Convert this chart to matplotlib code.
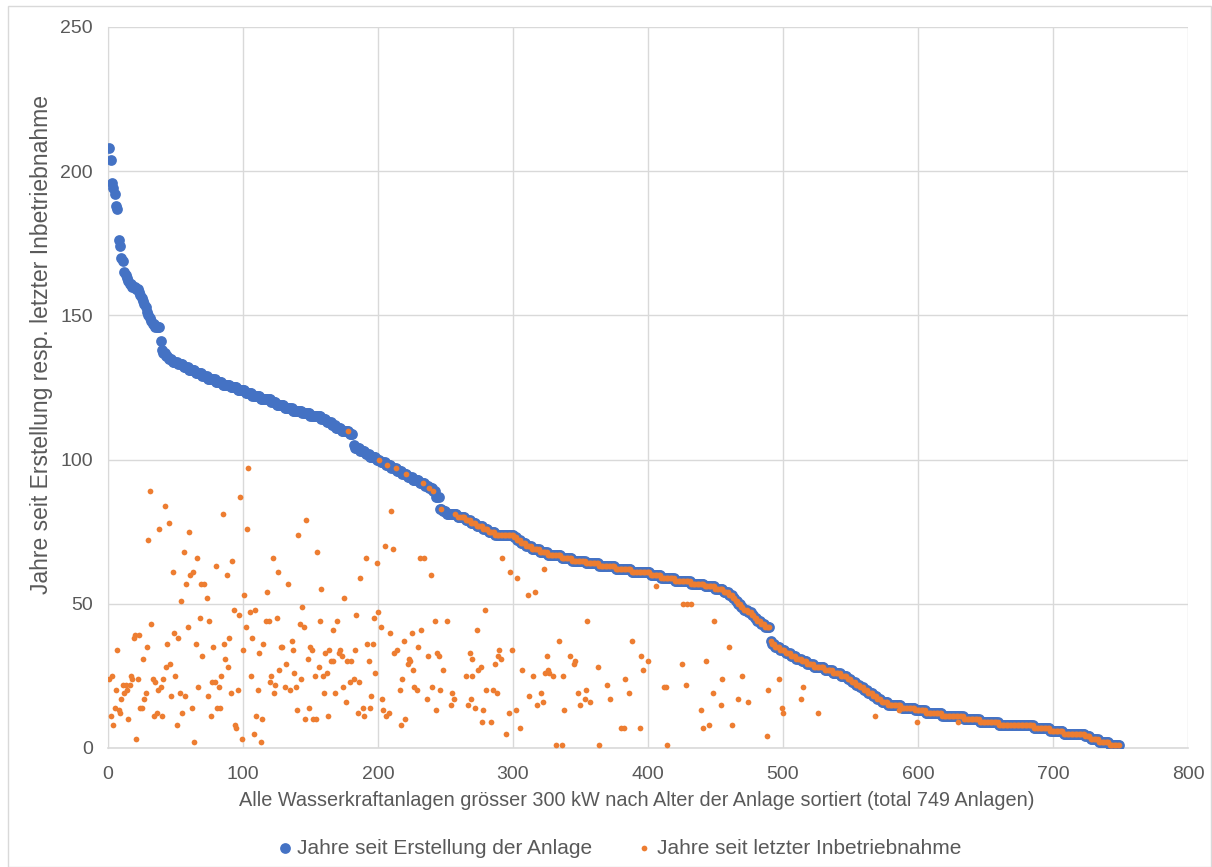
import numpy as np
import matplotlib
matplotlib.use('Agg')
import matplotlib.pyplot as plt
from matplotlib.patches import Rectangle

# ages (years since construction) of the sorted plants, as value/count runs
age_values = [208, 204, 196, 194, 192, 188, 187, 176, 174, 170, 169, 165, 164, 163, 162, 161, 160,
              159, 158, 157, 156, 155, 154, 153, 151, 150, 149, 148, 147, 146, 141, 138, 137, 136,
              135, 134, 133, 132, 131, 130, 129, 128, 127, 126, 125, 124, 123, 122, 121, 120, 119,
              118, 117, 116, 115, 114, 113, 112, 111, 110, 109, 105, 104, 103, 102, 101, 100, 99,
              98, 97, 96, 95, 94, 93, 92, 91, 90, 89, 87, 83, 82, 81, 80, 79, 78, 77, 76, 75, 74,
              73, 72, 71, 70, 69, 68, 67, 66, 65, 64, 63, 62, 61, 60, 59, 58, 57, 56, 55, 54, 53,
              52, 51, 50, 49, 48, 47, 46, 45, 44, 43, 42, 37, 36, 35, 34, 33, 32, 31, 30, 29, 28,
              27, 26, 25, 24, 23, 22, 21, 20, 19, 18, 17, 16, 15, 14, 13, 12, 11, 10, 9, 8, 7, 6,
              5, 4, 3, 2, 1]
age_counts = [1, 1, 1, 1, 1, 1, 1, 1, 1, 1, 1, 1, 1, 1, 1, 2, 3,
              2, 1, 1, 1, 1, 1, 1, 1, 1, 1, 1, 2, 4, 1, 1, 2, 2,
              3, 4, 4, 4, 5, 5, 4, 6, 5, 6, 5, 6, 5, 6, 8, 4, 6,
              6, 7, 6, 8, 4, 4, 3, 4, 6, 3, 1, 4, 4, 3, 5, 3, 4,
              4, 4, 4, 4, 4, 5, 4, 3, 3, 2, 3, 2, 3, 8, 6, 4, 4, 5, 4, 5, 14,
              2, 3, 4, 4, 6, 6, 10, 8, 10, 10, 12, 12, 14, 8, 10, 12, 10, 8, 6, 4, 3,
              2, 2, 2, 2, 3, 3, 2, 2, 3, 3, 4, 1, 2, 4, 4, 4, 4, 4, 4, 5, 8,
              6, 6, 5, 3, 3, 3, 3, 3, 4, 3, 3, 5, 10, 10, 8, 12, 16, 12, 14, 26, 12, 10,
              16, 4, 6, 8, 8]

# plants with a later re-commissioning: position in ranking and years since then
ren_x = [104, 31, 42, 98, 45, 38, 85, 103, 60, 30, 56, 66, 122, 92, 80, 48, 63, 61, 88, 126, 58, 69,
         71, 133, 118, 101, 73, 54, 93, 105, 109, 97, 68, 75, 32, 117, 119, 125, 102, 59, 49, 19, 20,
         23, 52, 90, 107, 44, 65, 86, 115, 29, 78, 128, 129, 7, 100, 112, 70, 26, 87, 132, 46, 43,
         89, 127, 1, 3, 17, 18, 22, 33, 35, 41, 50, 84, 106, 121, 11, 13, 16, 77, 79, 120, 124, 131,
         39, 67, 82, 6, 14, 37, 111, 96, 28, 12, 53, 91, 123, 47, 57, 74, 27, 10, 5, 24, 25, 62, 81,
         83, 8, 9, 36, 55, 2, 34, 40, 76, 110, 15, 114, 4, 51, 94, 95, 108, 21, 99, 64, 113,
         147, 141, 210, 155, 205, 211, 191, 199, 231, 234, 239, 187, 158, 175, 144, 200, 184, 197,
         157, 170, 242, 251, 142, 145, 202, 167, 232, 225, 209, 136, 219, 192, 196, 150, 151, 137,
         164, 172, 183, 230, 161, 171, 214, 212, 244, 268, 173, 237, 245, 148, 223, 165, 167, 177,
         180, 193, 224, 270, 222, 156, 226, 248, 138, 162, 198, 153, 159, 265, 270, 143, 182, 218,
         179, 186, 135, 139, 174, 227, 229, 240, 216, 246, 160, 168, 195, 255, 203, 236, 256, 269,
         176, 254, 267, 189, 194, 149, 140, 204, 243, 185, 208, 163, 190, 206, 146, 152, 154, 220,
         217,
         292, 298, 303, 323, 311, 316, 406, 279, 273, 355, 334, 388, 290, 299, 289, 291, 325, 342,
         395, 346, 345, 400, 287, 276, 274, 307, 326, 363, 396, 315, 324, 327, 330, 337, 383, 370,
         280, 285, 288, 354, 348, 386, 312, 321, 353, 372, 322, 357, 318, 350, 272, 278, 302, 338,
         297, 277, 284, 305, 380, 382, 394, 295, 332, 336, 364,
         426, 429, 432, 449, 460, 425, 443, 470, 455, 497, 412, 413, 428, 515, 489, 448, 467, 474,
         513, 454, 499, 500, 526, 439, 441, 445, 462, 488, 414,
         568, 586, 599, 630]
ren_y = [97, 89, 84, 87, 78, 76, 81, 76, 75, 72, 68, 66, 66, 65, 63, 61, 61, 60, 60, 61, 57, 57,
         57, 57, 54, 53, 52, 51, 48, 47, 48, 46, 45, 44, 43, 44, 44, 45, 42, 42, 40, 38, 39,
         39, 38, 38, 38, 36, 36, 36, 36, 35, 35, 35, 35, 34, 34, 33, 32, 31, 31, 29, 29, 28,
         28, 27, 24, 25, 25, 24, 24, 24, 23, 24, 25, 25, 25, 25, 22, 22, 22, 23, 23, 23, 22, 21,
         21, 21, 21, 20, 20, 20, 20, 20, 19, 19, 19, 19, 19, 18, 18, 18, 17, 17, 14, 14, 14, 14, 14,
         14, 13, 12, 12, 12, 11, 11, 11, 11, 11, 10, 10, 8, 8, 8, 7, 5, 3, 3, 2, 2,
         79, 74, 82, 68, 70, 69, 66, 64, 66, 66, 60, 59, 55, 52, 49, 47, 46, 45,
         44, 44, 44, 44, 43, 42, 42, 41, 41, 40, 40, 37, 37, 36, 36, 35, 34, 34,
         34, 34, 34, 35, 33, 33, 34, 33, 33, 33, 32, 32, 32, 31, 31, 30, 30, 30,
         30, 30, 30, 31, 29, 28, 27, 27, 26, 26, 26, 25, 25, 25, 25, 24, 24, 24,
         23, 23, 20, 21, 21, 21, 20, 21, 20, 20, 19, 19, 18, 19, 17, 17, 17, 17,
         16, 15, 15, 14, 14, 14, 13, 13, 13, 12, 12, 11, 11, 11, 10, 10, 10, 10,
         8,
         66, 61, 59, 62, 53, 54, 56, 48, 41, 44, 37, 37, 34, 34, 32, 31, 32, 32,
         32, 30, 29, 30, 29, 28, 27, 27, 27, 28, 27, 25, 26, 26, 25, 25, 24, 22,
         20, 20, 19, 20, 19, 19, 18, 19, 17, 17, 16, 16, 15, 15, 14, 13, 13, 13,
         12, 9, 9, 7, 7, 7, 7, 5, 1, 1, 1,
         50, 50, 50, 44, 35, 29, 30, 25, 24, 24, 21, 21, 22, 21, 20, 19, 17, 16,
         17, 15, 14, 12, 12, 13, 7, 8, 8, 4, 1,
         11, 13, 9, 9]

# plants never re-commissioned (orange point lies on the age curve)
unrenovated_early = [178, 201, 207, 213, 221, 233, 238, 241, 247, 257, 259, 261]
unrenovated_from = 262

blue = '#4472C4'
orange = '#ED7D31'
grid = '#D9D9D9'
txt = '#595959'

plt.rcParams['font.family'] = ['Liberation Sans', 'DejaVu Sans']

ages = np.repeat(age_values, age_counts)
idx = np.arange(1, len(ages) + 1)

on_curve = np.concatenate([np.array(unrenovated_early), np.arange(unrenovated_from, len(ages) + 1)])
orange_x = np.concatenate([np.array(ren_x), on_curve])
orange_y = np.concatenate([np.array(ren_y), ages[on_curve - 1]])

fig = plt.figure(figsize=(12.12, 8.67), dpi=100)
ax = fig.add_axes([0.0891, 0.1373, 0.8911, 0.8316])

ax.scatter(idx, ages, s=60, color=blue, linewidths=0, zorder=3, label='Jahre seit Erstellung der Anlage')
ax.scatter(orange_x, orange_y, s=17, color=orange, linewidths=0, zorder=4, label='Jahre seit letzter Inbetriebnahme')

ax.set_xlim(0, 800)
ax.set_ylim(0, 250)
ax.set_xticks(np.arange(0, 801, 100))
ax.set_yticks(np.arange(0, 251, 50))
ax.grid(True, color=grid, linewidth=1.0, zorder=0)
ax.set_axisbelow(True)
ax.tick_params(length=0, labelsize=14, labelcolor=txt)
ax.tick_params(axis='x', pad=13)
ax.tick_params(axis='y', pad=11)
for side in ['top', 'right']:
    ax.spines[side].set_visible(False)
ax.spines['left'].set_color(grid)
ax.spines['bottom'].set_color(grid)
ax.spines['bottom'].set_linewidth(1.2)

fig.text(0.525, 1 - 801 / 867, 'Alle Wasserkraftanlagen grösser 300 kW nach Alter der Anlage sortiert (total 749 Anlagen)',
         ha='center', va='center', fontsize=14.3, color=txt)
fig.text(42 / 1212, 1 - 345 / 867, 'Jahre seit Erstellung resp. letzter Inbetriebnahme',
         ha='center', va='center', rotation=90, fontsize=16.5, color=txt)

leg = fig.legend(loc='center', bbox_to_anchor=(0.5115, 1 - 848 / 867), ncol=2, frameon=False,
                 fontsize=15, handlelength=0.6, handletextpad=0.3, columnspacing=2.2, markerscale=1.0)
for t in leg.get_texts():
    t.set_color(txt)

fig.patches.append(Rectangle((8 / 1212, 0), 1 - 9 / 1212, 1 - 6 / 867, transform=fig.transFigure,
                             fill=False, edgecolor=grid, linewidth=1.0))

fig.savefig('out.png', dpi=100)
